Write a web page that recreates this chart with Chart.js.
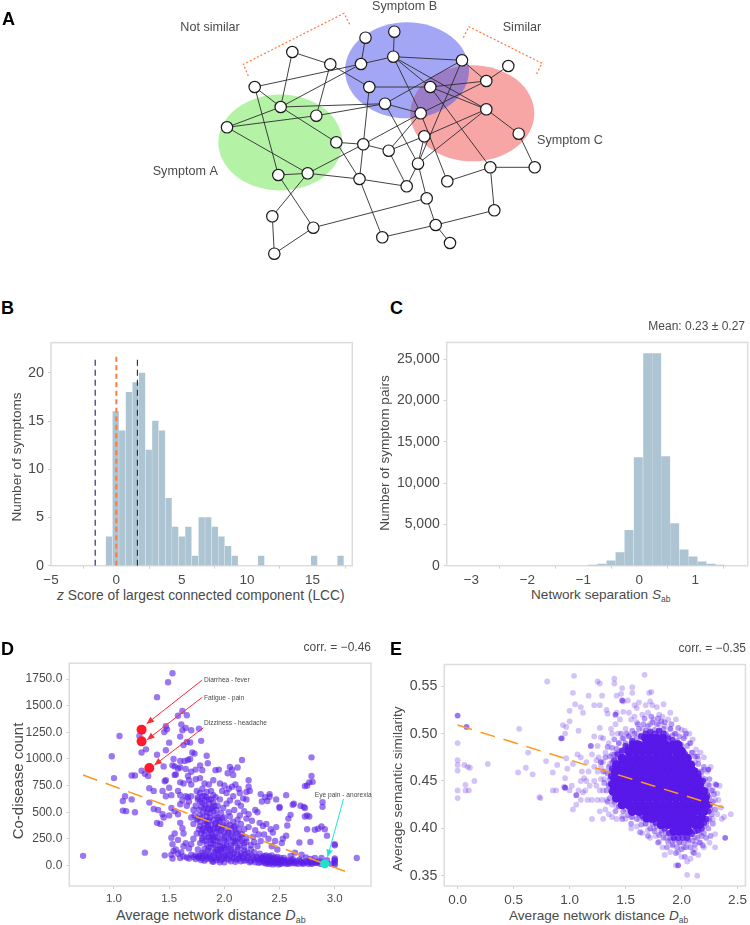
<!DOCTYPE html>
<html>
<head>
<meta charset="utf-8">
<script src="https://cdn.jsdelivr.net/npm/chart.js@4/dist/chart.umd.min.js"></script>
<style>
  body { margin: 0; background: #fff; font-family: "Liberation Sans", Arial, sans-serif; color: #4a4a4a; }
  #fig { position: relative; width: 750px; height: 925px; overflow: hidden; }
  canvas { position: absolute; }
  .t { position: absolute; white-space: nowrap; transform: translateY(-50%); line-height: 1; }
  .v { position: absolute; white-space: nowrap; line-height: 1; transform: translate(-50%, -50%) rotate(-90deg); }
  .letter { position: absolute; font-weight: bold; font-size: 18px; color: #000; line-height: 1; }
  .s { font-size: 62%; position: relative; top: 3px; }
</style>
</head>
<body>
<div id="fig">
  <canvas id="chartA"></canvas>
  <canvas id="chartB"></canvas>
  <canvas id="chartC"></canvas>
  <canvas id="chartD"></canvas>
  <canvas id="chartE"></canvas>

  <div class="letter" style="left:2px;top:10px">A</div>
  <div class="letter" style="left:1px;top:299px">B</div>
  <div class="letter" style="left:390px;top:299px">C</div>
  <div class="letter" style="left:1px;top:640px">D</div>
  <div class="letter" style="left:390px;top:640px">E</div>

  <div class="t" style="left:57px;top:596px;font-size:13.8px"><i>z</i> Score of largest connected component (LCC)</div>
  <div class="v" style="left:17px;top:457px;font-size:13.6px">Number of symptoms</div>

  <div class="t" style="right:5px;top:326px;font-size:12px">Mean: 0.23 ± 0.27</div>
  <div class="t" style="left:531px;top:595px;font-size:13.6px">Network separation <i>S</i><span class="s">ab</span></div>
  <div class="v" style="left:385px;top:453px;font-size:13.6px">Number of symptom pairs</div>

  <div class="t" style="right:379px;top:647px;font-size:12px">corr. = −0.46</div>
  <div class="t" style="left:116px;top:915px;font-size:14.4px">Average network distance <i>D</i><span class="s">ab</span></div>
  <div class="v" style="left:17px;top:781px;font-size:15px">Co-disease count</div>

  <div class="t" style="right:4px;top:648px;font-size:12px">corr. = −0.35</div>
  <div class="t" style="left:509px;top:916px;font-size:13.6px">Average network distance <i>D</i><span class="s">ab</span></div>
  <div class="v" style="left:398px;top:789px;font-size:13.6px">Average semantic similarity</div>
</div>

<script>
/* ---------- panel A: schematic network ---------- */
const nodes = [
  [365.5,37.7],[394.3,31.7],[361,64],[393.3,56.7],[462,60.3],[508.3,66],[486.3,81],[369.3,87],
  [430.3,87],[385,103.7],[486.3,109.3],[420.7,113.3],[518.7,133.7],[424.3,136.3],[363.3,144.3],
  [388.7,150.7],[418,163.7],[490.3,167.3],[534.7,167.3],[359.5,179],[406.7,186.3],[447.3,181.3],
  [426.7,198.3],[494.3,210.3],[435.7,225],[382.3,237.3],[450,243],[330.3,64.3],[292.3,52],
  [254.7,87],[280.7,107],[316.3,115.7],[227,127.3],[336.3,142.3],[307.7,173.3],[278.3,175],
  [272.3,216.3],[313.3,227.7],[274.3,253.7]
];
const edges = [
  [0,2],[1,3],[2,3],[3,4],[2,29],[2,30],[27,28],[28,30],[27,31],[27,7],[29,30],[29,35],[30,9],
  [30,33],[30,32],[32,31],[32,34],[31,9],[7,14],[7,8],[33,14],[33,19],[14,19],[9,11],[9,4],[9,16],
  [8,6],[8,10],[3,8],[3,10],[3,11],[4,6],[4,16],[11,6],[11,15],[11,21],[8,17],[13,10],[13,15],
  [16,10],[10,12],[12,18],[17,18],[17,21],[17,23],[5,6],[14,11],[15,20],[16,20],[16,22],[22,24],
  [24,25],[24,23],[24,26],[19,25],[19,20],[19,34],[14,34],[34,35],[34,36],[35,37],[36,38],[37,38],
  [37,22],[13,16],[14,15]
];
const greenBlob = [280.3,142.5,62,48];
const blueBlob = [407,70.3,62,48];
const redBlob = [472.3,113.3,62,48];
const notSimilarBracket = [[248.3,76],[243.3,64.3],[344,13.3],[350,25]];
const similarBracket = [[463.3,37.7],[469,26.7],[542,63.3],[536,75]];
const schemaLabels = [
  ['Not similar',180.3,27.7],['Symptom B',372,6.7],['Similar',502.7,27.7],
  ['Symptom C',537,140.7],['Symptom A',152.7,171.3]
];

/* ---------- panel B ---------- */
const lccBins = [-0.56,-0.05,0.45,0.96,1.47,1.97,2.48,2.98,3.49,4.0,4.5,5.01,5.51,6.02,6.53,7.03,7.54,8.04,8.55,9.06,11.08,15.13,17.15];
const lccCounts = [3,16,14,18,19,20,12,15,14,7,4,3,4,1,5,5,4,3,2,1,1,1,1];
const lccXTicks = [-5,0,5,10,15];
const lccYTicks = [0,5,10,15,20];

/* ---------- panel C ---------- */
const sepBins = [-0.83,-0.667,-0.506,-0.345,-0.185,-0.018,0.149,0.31,0.47,0.631,0.798,0.958,1.119,1.28,1.44];
const sepCounts = [40,200,600,1600,4290,13100,25700,25700,13200,5090,1920,1080,480,200,50];
const sepXTicks = [-3,-2,-1,0,1];
const sepYTicks = [0,5000,10000,15000,20000,25000];

/* ---------- panel D ---------- */
const dTop = [
  [0.72,90],[0.98,1025],[1.0,820],[1.05,1215],[1.08,605],[1.08,515],[1.11,510],[1.1,650],[1.16,620],[1.19,500],
  [1.16,845],[1.19,845],[1.23,1215],[1.25,1060],[1.29,1090],[1.25,890],[1.28,860],[1.31,840],[1.32,590],[1.32,725],
  [1.28,120],[1.36,700],[1.39,1040],[1.39,400],[1.42,390],[1.36,530],[1.4,520],[1.39,1580],[1.49,1720],[1.53,1805],
  [1.47,1308],[1.48,1278],[1.456,1253],[1.5,1153],[1.47,1082],[1.58,1405],[1.62,1450],[1.66,1410],[1.61,1325],
  [1.62,1270],[1.65,1290],[1.6,1210],[1.66,1160],[1.63,1130],[1.69,1155],[1.7,1270],[1.77,1285],[1.79,1170],
  [1.45,930],[1.47,800],[1.46,790],[1.5,730],[1.44,700],[1.47,650],[1.52,660],[1.53,940],[1.55,930],[1.54,1000],
  [1.58,910],[1.6,920],[1.6,980],[1.64,980],[1.67,990],[1.69,1000],[1.71,1060],[1.73,1050],[1.65,905],[1.7,880],
  [1.74,900],[1.78,940],[1.8,895],[1.84,1030],[1.85,960],[1.92,895],[1.95,900],[2.05,925],[2.07,900],[2.12,920],
  [2.16,990],[2.03,865],[2.08,850],[1.55,850],[1.56,855],[1.6,780],[1.63,770],[1.67,840],[1.68,800],[1.7,760],
  [1.74,810],[1.78,820],[1.82,770],[1.86,760],[1.9,800],[1.96,770],[2.0,750],[2.04,720],[2.1,760],[2.14,680],
  [2.22,800],[2.22,740],[2.2,690],[2.23,700],[2.75,750],[2.77,780],[2.73,745],[2.79,1015],[2.79,840],[2.8,785],
  [2.89,595],[2.89,550],[2.56,660],[2.33,670],[2.37,640],[2.41,670],[2.41,645],[2.47,620],[2.34,600],[2.39,605],
  [2.5,550],[2.5,540],[2.62,570],[2.63,580],[2.69,560],[2.72,550],[2.73,540],[2.6,475],[2.73,460],[2.75,470],
  [2.77,460],[2.75,340],[2.82,335],[2.85,345],[2.88,365],[2.91,340],[2.93,280],[3.0,200],[3.0,190],[2.68,215],
  [2.78,220],[2.53,250],[2.52,210],[2.56,280],[2.57,375],[2.58,440]
];
const dMiddle = [
  [1.52,540],[1.55,510],[1.5,470],[1.45,450],[1.44,480],[1.58,480],[1.6,400],[1.62,350],[1.55,300],[1.52,260],
  [1.53,200],[1.58,240],[1.63,300],[1.65,650],[1.67,640],[1.68,600],[1.66,560],[1.7,650],[1.72,520],[1.74,560],
  [1.75,700],[1.78,680],[1.8,720],[1.82,650],[1.84,690],[1.86,620],[1.88,700],[1.9,660],[1.92,640],[1.94,560],
  [1.8,590],[1.82,540],[1.84,500],[1.78,470],[1.75,430],[1.72,390],[1.78,370],[1.8,330],[1.83,420],[1.85,380],
  [1.87,450],[1.9,510],[1.92,470],[1.95,430],[1.97,490],[1.99,540],[2.02,580],[2.05,610],[2.08,650],[2.12,590],
  [2.15,560],[2.18,510],[2.2,440],[2.22,480],[2.25,420],[2.28,520],[2.3,500],[2.32,400],[2.35,370],[2.38,390],
  [2.42,340],[2.44,310],[2.47,360],[2.31,290],[2.28,330],[2.26,270],[2.22,360],[2.18,340],[2.15,390],[2.12,430],
  [2.1,370],[2.08,410],[2.05,460],[2.02,400],[2.0,450],[1.98,360],[1.95,320],[1.92,390],[1.9,340],[1.88,300],
  [1.85,260],[1.82,290],[1.8,240],[1.78,210],[1.75,300],[1.72,250],[1.7,200],[1.68,160],[1.65,210],[1.63,180],
  [1.84,200],[1.86,170],[1.88,240],[1.9,200],[1.92,270],[1.94,230],[1.96,180],[1.98,280],[2.0,240],[2.02,190],
  [2.04,310],[2.06,270],[2.08,220],[2.1,300],[2.12,170],[2.14,250],[2.16,290],[2.18,210],[2.2,260],[2.24,190],
  [2.27,220],[2.3,180],[2.33,230],[2.36,290],[2.4,250],[2.43,180],[2.46,230],[2.48,150],[1.86,340],[1.84,410],
  [1.88,530],[1.96,620],[1.94,350],[1.9,260],[1.93,150],[1.97,155],[2.01,160],[2.06,165],[1.76,150],[1.82,155],
  [2.0,310],[2.06,350],[2.1,230],[2.04,500],[2.09,520],[2.14,470],[2.17,630],[1.7,450],[1.73,470],[1.76,620],
  [1.6,660],[1.62,610],[1.58,700],[1.6,575],[1.98,700],[2.02,680],[2.07,740],[2.13,720],[2.2,620]
];
const dDense = [
  [1.76,640],[1.78,600],[1.8,650],[1.82,610],[1.84,640],[1.86,580],[1.88,620],[1.9,590],[1.77,520],[1.79,550],
  [1.81,500],[1.83,560],[1.85,530],[1.87,490],[1.89,545],[1.91,560],[1.93,520],[1.76,440],[1.78,410],[1.8,450],
  [1.82,380],[1.84,460],[1.86,420],[1.88,380],[1.9,430],[1.92,400],[1.94,450],[1.96,410],[1.98,440],[1.77,340],
  [1.79,300],[1.81,350],[1.83,320],[1.85,360],[1.87,330],[1.89,290],[1.91,350],[1.93,310],[1.95,370],[1.97,330],
  [1.99,380],[2.01,350],[2.03,300],[2.05,380],[2.07,320],[2.09,360],[2.11,310],[2.13,340],[2.15,290],[1.8,260],
  [1.83,230],[1.86,270],[1.88,210],[1.9,240],[1.92,190],[1.94,260],[1.96,220],[1.98,180],[2.0,260],[2.02,220],
  [2.04,250],[2.06,190],[2.08,260],[2.1,210],[2.12,250],[2.14,190],[2.16,230],[2.18,170],[2.2,220],[1.85,140],
  [1.88,165],[1.91,120],[1.94,145],[1.97,130],[2.0,170],[2.03,110],[2.06,140],[2.09,125],[2.12,150],[2.15,115],
  [2.18,140],[2.21,120],[2.24,150],[2.27,125]
];
const dBottom = [
  [1.46,95],[1.52,100],[1.53,65],[1.54,135],[1.56,150],[1.58,110],[1.6,70],[1.61,125],[1.63,85],[1.66,75],
  [1.68,65],[1.7,100],[1.72,80],[1.74,60],[1.76,85],[1.78,95],[1.8,70],[1.8,120],[1.82,45],[1.83,90],[1.85,75],
  [1.86,110],[1.88,60],[1.9,95],[1.9,35],[1.92,130],[1.94,70],[1.95,100],[1.97,50],[1.98,120],[2.0,85],[2.0,30],
  [2.02,65],[2.03,135],[2.05,90],[2.06,40],[2.08,110],[2.09,70],[2.11,55],[2.12,100],[2.14,85],[2.15,40],[2.17,70],
  [2.19,110],[2.2,50],[2.22,90],[2.24,40],[2.26,70],[2.28,30],[2.3,80],[2.31,55],[2.32,110],[2.33,30],[2.34,70],
  [2.35,45],[2.36,90],[2.37,20],[2.38,60],[2.39,35],[2.4,75],[2.41,15],[2.42,50],[2.43,95],[2.44,30],[2.45,65],
  [2.46,20],[2.47,45],[2.48,80],[2.49,30],[2.5,55],[2.51,15],[2.52,40],[2.54,70],[2.55,25],[2.57,50],[2.58,15],
  [2.6,35],[2.62,60],[2.63,20],[2.65,40],[2.67,15],[2.68,55],[2.7,30],[2.72,20],[2.74,40],[2.76,15],[2.78,30],
  [2.8,20],[2.82,35],[2.84,25],[2.86,40],[2.87,15],[2.88,70],[2.9,30],[2.92,20],[2.93,50],[3.0,20],[3.0,40],
  [3.0,55],[3.0,5],[3.0,65],[2.97,15],[3.2,70],[2.78,60],[2.82,70],[2.74,75],[2.6,90],[2.64,120],[2.7,100],
  [1.74,95],[1.77,70],[1.79,50],[1.81,100],[1.84,60],[1.87,85],[1.89,40],[1.91,70],[1.93,50],[1.95,85],[1.96,30],
  [1.99,65],[2.01,95],[2.04,55],[2.07,75],[2.1,35],[2.13,60],[2.16,90],[2.18,45],[2.21,70],[2.23,30],[2.25,95],
  [2.27,50],[2.29,75],[2.31,25],[2.33,60],[2.35,80],[2.36,30],[2.38,95],[2.39,15],[2.4,50],[2.41,85],[2.42,30],
  [2.43,65],[2.44,10],[2.45,40],[2.46,75],[2.47,25],[2.48,55],[2.49,10],[2.5,35],[2.51,70],[2.52,20],[2.53,50],
  [2.55,45],[2.56,15],[2.58,35],[2.6,20],[2.61,50],[2.63,35],[2.65,20],[2.69,40],[2.71,15],[2.75,30],[2.79,15],[2.83,25]
];
const dHighlightRed = [[1.25,1275],[1.25,1165],[1.32,915]];
const dHighlightCyan = [[2.91,15]];
const dTrend = [[0.72,849],[3.17,-84]];
const dXTicks = [1.0,1.5,2.0,2.5,3.0];
const dYTicks = [0,250,500,750,1000,1250,1500,1750];
const dArrows = [
  [1.80,1741,1.296,1330,'#ff2a35'],[1.80,1579,1.30,1181,'#ff2a35'],
  [1.81,1293,1.366,942,'#ff2a35'],[3.08,625,2.936,81,'#1fe8d2']
];
const dNotes = [
  ['Diarrhea - fever',1.815,1740],['Fatigue - pain',1.815,1570],
  ['Dizziness - headache',1.815,1340],['Eye pain - anorexia',2.82,660]
];

/* ---------- panel E ---------- */
// solid centre of the cloud, one row per similarity level
const eCoreRows = [
  [0.495,[1.68,1.73,1.78,1.83]],
  [0.488,[1.57,1.62,1.68,1.74,1.8,1.86,1.92,1.97]],
  [0.481,[1.53,1.59,1.65,1.71,1.77,1.83,1.89,1.95,2.0]],
  [0.474,[1.47,1.53,1.59,1.65,1.71,1.77,1.83,1.89,1.95,2.01,2.05]],
  [0.467,[1.42,1.48,1.54,1.6,1.66,1.72,1.78,1.84,1.9,1.96,2.02,2.08]],
  [0.460,[1.41,1.47,1.53,1.59,1.65,1.71,1.77,1.83,1.89,1.95,2.01,2.07,2.11]],
  [0.453,[1.4,1.46,1.52,1.58,1.64,1.7,1.76,1.82,1.88,1.94,2.0,2.06,2.11,2.14]],
  [0.446,[1.39,1.45,1.51,1.57,1.63,1.69,1.75,1.81,1.87,1.93,1.99,2.05,2.11,2.16]],
  [0.439,[1.39,1.44,1.5,1.56,1.62,1.68,1.74,1.8,1.86,1.92,1.98,2.04,2.1,2.15,2.19]],
  [0.432,[1.42,1.47,1.53,1.59,1.65,1.71,1.77,1.83,1.89,1.95,2.01,2.07,2.13,2.18,2.21]],
  [0.425,[1.47,1.53,1.59,1.65,1.71,1.77,1.83,1.89,1.95,2.01,2.07,2.13,2.18,2.22]],
  [0.418,[1.56,1.62,1.68,1.74,1.8,1.86,1.92,1.98,2.04,2.1,2.16,2.2]],
  [0.411,[1.69,1.75,1.81,1.87,1.93,1.99,2.05,2.11,2.18]],
  [0.404,[1.82,1.88,1.94,2.0,2.06,2.12,2.16]],
  [0.397,[1.93,1.98,2.03,2.06]]
];
// heavy points hugging the centre
const eInner = [
  [1.52,0.485],[1.56,0.492],[1.6,0.49],[1.64,0.497],[1.68,0.5],[1.72,0.502],[1.76,0.5],[1.8,0.503],[1.84,0.5],[1.88,0.495],
  [1.92,0.493],[1.96,0.49],[2.0,0.483],[2.03,0.478],[2.06,0.47],[2.09,0.466],[2.12,0.46],[2.15,0.458],[2.17,0.45],[2.19,0.45],
  [2.21,0.44],[2.23,0.435],[2.25,0.425],[2.24,0.418],[2.22,0.41],[2.2,0.406],[2.18,0.4],[2.15,0.398],[2.12,0.397],[2.09,0.394],
  [2.05,0.39],[2.01,0.39],[1.97,0.39],[1.93,0.39],[1.89,0.395],[1.85,0.4],[1.81,0.403],[1.77,0.406],[1.73,0.409],[1.69,0.41],
  [1.65,0.413],[1.61,0.417],[1.57,0.42],[1.53,0.423],[1.49,0.428],[1.45,0.432],[1.42,0.44],[1.37,0.447],[1.37,0.455],[1.38,0.463],
  [1.4,0.472],[1.43,0.478],[1.47,0.482],[1.5,0.487]
];
// mid density ring round the centre
const eFringe = [
  [1.5,0.49],[1.53,0.497],[1.55,0.49],[1.58,0.5],[1.6,0.495],[1.62,0.505],[1.64,0.498],[1.66,0.51],[1.68,0.503],
  [1.7,0.508],[1.72,0.5],[1.74,0.512],[1.76,0.504],[1.78,0.51],[1.8,0.502],[1.82,0.513],[1.84,0.505],[1.86,0.5],
  [1.88,0.497],[1.9,0.505],[1.92,0.498],[1.94,0.5],[1.96,0.492],[1.98,0.497],[2.0,0.488],[2.02,0.495],[2.03,0.48],
  [2.05,0.487],[2.07,0.475],[2.09,0.48],[2.1,0.468],[2.12,0.476],[2.13,0.46],[2.15,0.468],[2.16,0.455],[2.18,0.46],
  [2.19,0.445],[2.21,0.452],[2.22,0.44],[2.24,0.446],[2.25,0.432],[2.27,0.44],[2.26,0.42],[2.28,0.428],[2.25,0.41],
  [2.27,0.415],[2.22,0.405],[2.24,0.4],[2.2,0.395],[2.22,0.39],[2.18,0.392],[2.16,0.385],[2.14,0.39],[2.12,0.383],
  [2.1,0.387],[2.08,0.38],[2.06,0.388],[2.04,0.38],[2.02,0.385],[2.0,0.378],[1.98,0.385],[1.96,0.38],[1.94,0.388],
  [1.92,0.383],[1.9,0.39],[1.88,0.386],[1.86,0.395],[1.84,0.39],[1.82,0.398],[1.8,0.393],[1.78,0.402],[1.76,0.397],
  [1.74,0.405],[1.72,0.4],[1.7,0.41],[1.68,0.405],[1.66,0.41],[1.64,0.404],[1.62,0.415],[1.6,0.41],[1.58,0.418],
  [1.56,0.412],[1.54,0.42],[1.52,0.414],[1.5,0.425],[1.48,0.418],[1.46,0.43],[1.44,0.423],[1.42,0.435],[1.4,0.428],
  [1.38,0.438],[1.36,0.432],[1.35,0.445],[1.33,0.44],[1.36,0.452],[1.34,0.458],[1.37,0.46],[1.35,0.465],[1.38,0.47],
  [1.36,0.476],[1.4,0.478],[1.38,0.485],[1.42,0.484],[1.44,0.49],[1.46,0.482],[1.48,0.495],
  [1.51,0.5],[1.56,0.503],[1.61,0.51],[1.67,0.516],[1.73,0.518],[1.79,0.516],[1.85,0.512],[1.91,0.51],[1.97,0.506],
  [2.04,0.5],[2.08,0.49],[2.14,0.476],[2.2,0.465],[2.25,0.452],[2.29,0.436],[2.3,0.42],[2.28,0.405],[2.26,0.392],
  [2.19,0.382],[2.11,0.374],[2.03,0.37],[1.95,0.374],[1.87,0.38],[1.79,0.385],[1.7,0.392],[1.63,0.396],[1.55,0.405],
  [1.47,0.41],[1.41,0.418],[1.34,0.428],[1.31,0.448],[1.3,0.46],[1.32,0.475],[1.34,0.486],[1.4,0.494],[1.46,0.5]
];
const eHalo = [
  [0,0.49],[0,0.472],[0,0.467],[0,0.461],[0,0.44],[0,0.432],[0.06,0.467],[0.09,0.465],
  [0.11,0.464],[0.15,0.45],[0.07,0.446],[0.07,0.44],[0.1,0.44],[0.27,0.468],[0.55,0.505],[0.54,0.459],[0.61,0.464],
  [0.63,0.48],[0.67,0.457],[0.73,0.433],[0.74,0.432],[0.79,0.471],[0.8,0.555],[0.85,0.459],[0.85,0.44],[0.88,0.44],
  [0.89,0.467],[0.92,0.495],[0.94,0.509],[0.96,0.5],[0.97,0.507],[1.0,0.513],[1.0,0.524],[1.04,0.561],[1.03,0.543],
  [1.05,0.531],[1.1,0.528],[1.12,0.522],[1.08,0.503],[1.07,0.478],[1.1,0.475],[1.03,0.468],[0.98,0.463],[0.97,0.474],
  [0.95,0.444],[0.96,0.453],[0.96,0.443],[1.0,0.44],[1.02,0.445],[1.03,0.42],[1.06,0.425],[1.1,0.43],[1.12,0.438],
  [1.13,0.453],[1.15,0.45],[1.2,0.41],[1.22,0.53],[1.17,0.54],[1.25,0.555],[1.27,0.553],[1.29,0.54],[1.27,0.53],
  [1.33,0.525],[1.34,0.521],[1.22,0.497],[1.25,0.487],[1.27,0.506],[1.28,0.496],[1.3,0.495],[1.32,0.48],[1.2,0.478],
  [1.15,0.47],[1.22,0.465],[1.25,0.46],[1.28,0.452],[1.3,0.44],[1.2,0.43],[1.25,0.43],[1.27,0.418],[1.33,0.43],
  [1.35,0.415],[1.38,0.412],[1.42,0.41],[1.4,0.558],[1.4,0.553],[1.42,0.54],[1.46,0.542],[1.47,0.548],[1.56,0.549],
  [1.56,0.543],[1.48,0.534],[1.42,0.522],[1.48,0.523],[1.53,0.522],[1.58,0.53],[1.62,0.533],[1.67,0.562],[1.71,0.543],
  [1.73,0.544],[1.72,0.534],[1.74,0.53],[1.84,0.531],[1.55,0.515],[1.58,0.518],[1.6,0.512],[1.65,0.52],[1.7,0.522],
  [1.75,0.515],[1.8,0.52],[1.83,0.518],[1.88,0.515],[1.5,0.505],[1.53,0.498],[1.47,0.495],[1.44,0.49],[1.42,0.48],
  [1.47,0.48],[1.38,0.478],[1.36,0.468],[1.4,0.465],[1.43,0.46],[1.38,0.455],[1.35,0.447],[1.37,0.44],[1.4,0.435],
  [1.38,0.425],[1.42,0.423],[1.47,0.413],[1.5,0.41],[1.55,0.4],[1.6,0.402],[1.65,0.395],[1.7,0.398],[1.72,0.39],
  [1.77,0.392],[1.8,0.386],[1.83,0.38],[1.85,0.372],[1.9,0.375],[1.92,0.382],[1.95,0.361],[1.97,0.375],[2.0,0.37],
  [2.02,0.38],[2.05,0.365],[2.08,0.368],[2.1,0.375],[2.12,0.378],[2.15,0.372],[2.05,0.351],[2.14,0.35],[2.17,0.385],
  [2.2,0.38],[2.25,0.385],[2.3,0.394],[2.16,0.395],[2.2,0.402],[2.24,0.408],[2.28,0.41],[2.32,0.415],
  [2.38,0.412],[2.44,0.415],[2.35,0.422],[2.3,0.43],[2.26,0.425],[2.22,0.42],[2.18,0.412],[2.2,0.432],[2.22,0.44],
  [2.25,0.445],[2.28,0.44],[2.32,0.437],[2.34,0.445],[2.2,0.45],[2.18,0.455],[2.15,0.46],[2.2,0.462],[2.23,0.46],
  [2.3,0.447],[2.12,0.47],[2.15,0.473],[2.2,0.475],[2.1,0.48],[2.13,0.483],[2.07,0.49],[2.1,0.494],[2.03,0.497],
  [2.0,0.504],[2.03,0.503],[1.95,0.5],[1.9,0.505],[1.85,0.508],[1.8,0.51],[1.72,0.51],[1.65,0.505],[1.6,0.5],
  [1.56,0.495],[1.5,0.485],[1.45,0.47],[1.43,0.5],[1.4,0.445],[1.42,0.452],[1.46,0.43],[1.5,0.42],[1.55,0.412],
  [1.62,0.41],[1.68,0.405],[1.75,0.4],[1.82,0.395],[1.86,0.39],[1.9,0.388],[1.98,0.385],[2.06,0.385],[2.12,0.39],
  [1.4,0.43],[1.32,0.46],[1.3,0.47],[1.26,0.475],[1.18,0.445],[1.16,0.43],[1.08,0.44],[1.1,0.45],[1.35,0.49],[1.38,0.5],
  [1.24,0.445],[1.27,0.44],[1.22,0.45],[1.17,0.46],[1.14,0.44],[1.11,0.46],[1.24,0.472],[1.28,0.465],[1.31,0.452],
  [1.29,0.43],[1.32,0.42],[1.3,0.41],[1.37,0.505],[1.41,0.51],[1.45,0.515],[1.52,0.535],[1.6,0.527],[1.68,0.53],
  [1.78,0.528],[1.9,0.522],[1.95,0.515],[2.07,0.5],[2.17,0.48],[2.26,0.465],[2.33,0.43],[2.36,0.41],[2.3,0.38]
];
// darker single points
const eDark = [[0,0.519],[0.08,0.507],[2.39,0.39],[0.93,0.495],[0.96,0.443],[1.19,0.487],[1.28,0.47],[1.06,0.435],[1.41,0.52],[1.47,0.535],[2.24,0.462],[2.31,0.446],[1.97,0.361]];
const eTrend = [[0,0.509],[2.4,0.421]];
const eXTicks = [0.0,0.5,1.0,1.5,2.0,2.5];
const eYTicks = [0.35,0.40,0.45,0.50,0.55];

const toPts = list => list.map(p => ({ x: p[0], y: p[1] }));
const FRAME = '#dcdcdc';

// grey box round each plot
const framePlugin = {
  id: 'frame',
  beforeDatasetsDraw(chart) {
    const a = chart.chartArea, ctx = chart.ctx;
    ctx.save();
    ctx.strokeStyle = FRAME;
    ctx.lineWidth = 1.5;
    ctx.strokeRect(a.left, a.top, a.width, a.height);
    ctx.restore();
  }
};

// places a canvas so its plot area lands on the given box
function place(id, box) {
  const c = document.getElementById(id);
  c.style.left = box.cl + 'px';
  c.style.top = box.ct + 'px';
  c.width = box.cw;
  c.height = box.ch;
  c.style.width = box.cw + 'px';
  c.style.height = box.ch + 'px';
  return {
    axisW: box.l - box.cl,
    axisH: box.ct + box.ch - box.b,
    padTop: box.t - box.ct,
    padRight: box.cl + box.cw - box.r
  };
}

function plotOptions(g, xr, yr, xTicks, yTicks, xFmt, yFmt, xFont, yFont) {
  const tickGrid = { display: true, drawOnChartArea: false, tickLength: 3, color: '#cfcfcf', tickWidth: 1 };
  return {
    responsive: false,
    animation: false,
    layout: { autoPadding: false, padding: { top: g.padTop, right: g.padRight, left: 0, bottom: 0 } },
    plugins: { legend: { display: false }, tooltip: { enabled: false } },
    scales: {
      x: {
        type: 'linear', min: xr[0], max: xr[1], offset: false,
        grid: tickGrid, border: { display: false },
        afterBuildTicks: s => { s.ticks = xTicks.map(v => ({ value: v })); },
        afterFit: s => { s.height = g.axisH; },
        ticks: { callback: xFmt, color: '#4a4a4a', font: { family: 'Liberation Sans', size: xFont }, padding: 3, maxRotation: 0, autoSkip: false }
      },
      y: {
        type: 'linear', min: yr[0], max: yr[1],
        grid: tickGrid, border: { display: false },
        afterBuildTicks: s => { s.ticks = yTicks.map(v => ({ value: v })); },
        afterFit: s => { s.width = g.axisW; },
        ticks: { callback: yFmt, color: '#4a4a4a', font: { family: 'Liberation Sans', size: yFont }, padding: 4, autoSkip: false }
      }
    }
  };
}

const minus = s => String(s).replace('-', '−');

/* =========================================================
   PANEL A
========================================================= */
const blobPlugin = {
  id: 'blobs',
  beforeDatasetsDraw(chart) {
    const ctx = chart.ctx, sx = chart.scales.x, sy = chart.scales.y;
    const path = ([cx, cy, rx, ry]) => {
      ctx.beginPath();
      ctx.ellipse(sx.getPixelForValue(cx), sy.getPixelForValue(cy),
        Math.abs(sx.getPixelForValue(cx + rx) - sx.getPixelForValue(cx)),
        Math.abs(sy.getPixelForValue(cy + ry) - sy.getPixelForValue(cy)), 0, 0, Math.PI * 2);
    };
    ctx.save();
    path(greenBlob); ctx.fillStyle = '#b4f2a6'; ctx.fill();
    path(blueBlob); ctx.fillStyle = '#a3a6f5'; ctx.fill();
    path(redBlob); ctx.fillStyle = '#f7a5a5'; ctx.fill();
    // overlap of B and C
    path(blueBlob); ctx.clip();
    path(redBlob); ctx.fillStyle = '#9c7cc6'; ctx.fill();
    ctx.restore();
  },
  afterDraw(chart) {
    const ctx = chart.ctx, sx = chart.scales.x, sy = chart.scales.y;
    ctx.save();
    ctx.font = '12.6px "Liberation Sans"';
    ctx.fillStyle = '#4a4a4a';
    ctx.textBaseline = 'middle';
    schemaLabels.forEach(([t, x, y]) => ctx.fillText(t, sx.getPixelForValue(x), sy.getPixelForValue(y)));
    ctx.restore();
  }
};

const edgeSets = edges.map(([a, b]) => ({
  type: 'scatter', showLine: true, order: 2, pointRadius: 0,
  borderColor: '#2c2c2c', borderWidth: 0.9, fill: false,
  data: [{ x: nodes[a][0], y: nodes[a][1] }, { x: nodes[b][0], y: nodes[b][1] }]
}));
const bracketSet = pts => ({
  type: 'scatter', showLine: true, order: 3, pointRadius: 0,
  borderColor: '#ff7a3c', borderWidth: 1.2, borderDash: [2, 2], data: toPts(pts)
});

const cA = document.getElementById('chartA');
cA.width = 750; cA.height = 290;
cA.style.left = '0px'; cA.style.top = '0px';
new Chart(cA, {
  type: 'scatter',
  data: {
    datasets: [
      { order: 0, data: toPts(nodes), pointRadius: 5.7, backgroundColor: '#fff', borderColor: '#1a1a1a', borderWidth: 1.2 },
      ...edgeSets,
      bracketSet(notSimilarBracket),
      bracketSet(similarBracket)
    ]
  },
  options: {
    responsive: false, animation: false,
    layout: { autoPadding: false, padding: 0 },
    plugins: { legend: { display: false }, tooltip: { enabled: false } },
    scales: {
      x: { display: false, min: 0, max: 750 },
      y: { display: false, min: 0, max: 290, reverse: true }
    }
  },
  plugins: [blobPlugin]
});

/* =========================================================
   PANELS B and C: histograms
========================================================= */
const gB = place('chartB', { cl: 0, ct: 330, cw: 370, ch: 256, l: 51, r: 352.3, t: 340.7, b: 565.7 });
new Chart(document.getElementById('chartB'), {
  type: 'bar',
  data: {
    datasets: [
      { type: 'scatter', showLine: true, order: 0, pointRadius: 0, borderColor: '#ff7a3c', borderWidth: 2, borderDash: [5, 3.5], data: toPts([[0, 0], [0, 22]]) },
      { type: 'scatter', showLine: true, order: 0, pointRadius: 0, borderColor: '#16235f', borderWidth: 1.1, borderDash: [6, 4], data: toPts([[-1.62, 0], [-1.62, 21.5]]) },
      { type: 'scatter', showLine: true, order: 0, pointRadius: 0, borderColor: '#16235f', borderWidth: 1.1, borderDash: [6, 4], data: toPts([[1.61, 0], [1.61, 21.5]]) },
      { order: 1, data: lccBins.map((b, i) => ({ x: b, y: lccCounts[i] })), backgroundColor: '#adc5d3', barThickness: 5.6 }
    ]
  },
  options: plotOptions(gB, [-5, 18.05], [0, 23.15], lccXTicks, lccYTicks, minus, v => v, 13.5, 14.4),
  plugins: [framePlugin]
});

const gC = place('chartC', { cl: 375, ct: 330, cw: 375, ch: 256, l: 446.7, r: 747.7, t: 340.7, b: 565.7 });
new Chart(document.getElementById('chartC'), {
  type: 'bar',
  data: { datasets: [{ data: sepBins.map((b, i) => ({ x: b, y: sepCounts[i] })), backgroundColor: '#adc5d3', barThickness: 8.3 }] },
  options: plotOptions(gC, [-3.44, 1.935], [0, 27040], sepXTicks, sepYTicks, minus, v => v.toLocaleString('en-US'), 13.5, 14),
  plugins: [framePlugin]
});

/* =========================================================
   PANELS D and E: scatters
========================================================= */
const arrowPlugin = {
  id: 'arrows',
  afterDatasetsDraw(chart) {
    const ctx = chart.ctx, sx = chart.scales.x, sy = chart.scales.y;
    ctx.save();
    dArrows.forEach(([x0, y0, x1, y1, col]) => {
      const ax = sx.getPixelForValue(x0), ay = sy.getPixelForValue(y0);
      const bx = sx.getPixelForValue(x1), by = sy.getPixelForValue(y1);
      const ang = Math.atan2(by - ay, bx - ax);
      ctx.strokeStyle = col; ctx.fillStyle = col; ctx.lineWidth = 1;
      ctx.beginPath(); ctx.moveTo(ax, ay); ctx.lineTo(bx, by); ctx.stroke();
      ctx.beginPath();
      ctx.moveTo(bx, by);
      ctx.lineTo(bx - 8 * Math.cos(ang - 0.42), by - 8 * Math.sin(ang - 0.42));
      ctx.lineTo(bx - 8 * Math.cos(ang + 0.42), by - 8 * Math.sin(ang + 0.42));
      ctx.closePath(); ctx.fill();
    });
    ctx.font = '6.6px "Liberation Sans"';
    ctx.fillStyle = '#4a4a4a';
    ctx.textBaseline = 'middle';
    dNotes.forEach(([t, x, y]) => ctx.fillText(t, sx.getPixelForValue(x), sy.getPixelForValue(y)));
    ctx.restore();
  }
};

const trendSet = pts => ({
  type: 'scatter', showLine: true, order: 1, pointRadius: 0,
  borderColor: '#ff981f', borderWidth: 1.5, borderDash: [15, 9], data: toPts(pts)
});

const gD = place('chartD', { cl: 0, ct: 652, cw: 375, ch: 254, l: 69.3, r: 371, t: 661.7, b: 886 });
new Chart(document.getElementById('chartD'), {
  type: 'scatter',
  data: {
    datasets: [
      { order: 0, data: toPts(dHighlightRed), pointRadius: 5, backgroundColor: '#ff1b2d', borderWidth: 0 },
      { order: 0, data: toPts(dHighlightCyan), pointRadius: 4.6, backgroundColor: '#1fe0c8', borderWidth: 0 },
      trendSet(dTrend),
      { order: 2, data: toPts([...dTop, ...dMiddle, ...dDense, ...dBottom]), pointRadius: 3.2, backgroundColor: 'rgba(88,28,232,0.6)', borderWidth: 0 }
    ]
  },
  options: plotOptions(gD, [0.595, 3.329], [-193, 1899], dXTicks, dYTicks, v => v.toFixed(1), v => v.toFixed(1), 11.5, 12),
  plugins: [framePlugin, arrowPlugin]
});

const gE = place('chartE', { cl: 375, ct: 652, cw: 375, ch: 254, l: 444.3, r: 745.7, t: 661.7, b: 886 });
new Chart(document.getElementById('chartE'), {
  type: 'scatter',
  data: {
    datasets: [
      trendSet(eTrend),
      { order: 2, data: eCoreRows.flatMap(([y, xs]) => xs.map(x => ({ x, y }))), pointRadius: 4.6, backgroundColor: 'rgb(88,24,232)', borderWidth: 0 },
      { order: 3, data: toPts(eInner), pointRadius: 3.2, backgroundColor: 'rgba(88,24,232,0.8)', borderWidth: 0 },
      { order: 4, data: toPts(eFringe), pointRadius: 2.9, backgroundColor: 'rgba(88,24,232,0.42)', borderWidth: 0 },
      { order: 4, data: toPts(eDark), pointRadius: 2.9, backgroundColor: 'rgba(88,24,232,0.6)', borderWidth: 0 },
      { order: 5, data: toPts(eHalo), pointRadius: 2.9, backgroundColor: 'rgba(88,24,232,0.26)', borderWidth: 0 }
    ]
  },
  options: plotOptions(gE, [-0.119, 2.571], [0.3392, 0.5729], eXTicks, eYTicks, v => v.toFixed(1), v => v.toFixed(2), 13.5, 14.2),
  plugins: [framePlugin]
});
</script>
</body>
</html>
